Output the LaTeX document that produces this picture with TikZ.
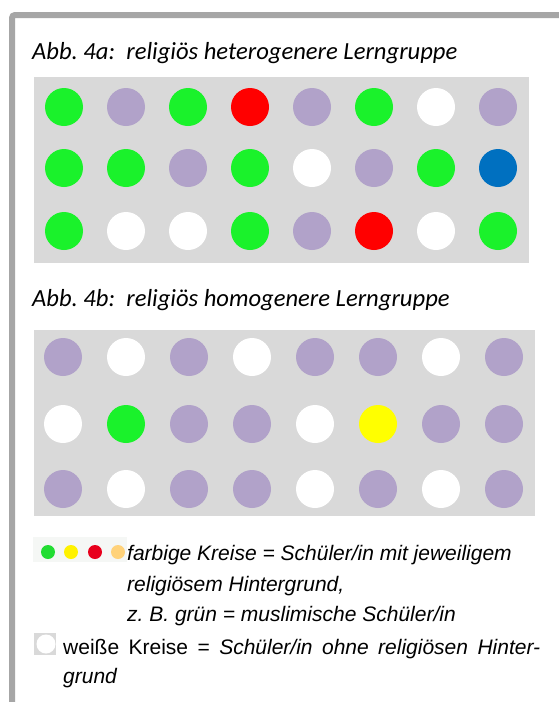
\documentclass[tikz,border=0pt]{standalone}
\usepackage{fontspec}
\setmainfont{Liberation Sans}
\newfontfamily\titlefont{Carlito}
\definecolor{framegray}{HTML}{A6A6A6}
\definecolor{boxgray}{HTML}{D9D9D9}
\definecolor{cG}{HTML}{1AF22B}
\definecolor{cP}{HTML}{B1A2C9}
\definecolor{cR}{HTML}{FF0000}
\definecolor{cB}{HTML}{0070C0}
\definecolor{cY}{HTML}{FFFF00}
\definecolor{cW}{HTML}{FFFFFF}
\definecolor{lgG}{HTML}{22DD33}
\definecolor{lgY}{HTML}{FFF200}
\definecolor{lgR}{HTML}{E8001C}
\definecolor{lgO}{HTML}{FFD27A}
\definecolor{lgBg}{HTML}{F5F7F5}
\frenchspacing
\tikzset{
  dot/.style={circle, minimum size=38pt, inner sep=0pt, draw=none},
  smalldot/.style={circle, minimum size=14pt, inner sep=0pt, draw=none},
  panel/.style={rectangle, fill=boxgray, draw=none, inner sep=0pt, anchor=north west},
  titletext/.style={anchor=base west, inner sep=0pt, font=\titlefont\itshape\fontsize{24.6}{28}\selectfont},
  legtext/.style={anchor=base west, inner sep=0pt, font=\fontsize{21}{25}\selectfont}
}
\begin{document}
\begin{tikzpicture}[x=1pt,y=-1pt]
\useasboundingbox (0,0) rectangle (559,702);
\fill[white] (0,0) rectangle (559,702);
\begin{scope}
\clip (0,0) rectangle (559,702);
\draw[framegray, line width=6pt, rounded corners=3pt] (12,15) rectangle (620,760);
\end{scope}

% Titles
\node[titletext] (t1) at (32,59) {Abb. 4a:\ \ religiös heterogenere Lerngruppe};
\node[titletext] (t2) at (32,306) {Abb. 4b:\ \ religiös homogenere Lerngruppe};

% Panels
\node[panel, minimum width=495pt, minimum height=186pt] (p1) at (34,77) {};
\node[panel, minimum width=501pt, minimum height=186pt] (p2) at (34,330) {};

% Panel 1 circles
\foreach \c [count=\i from 0] in {G,P,G,R,P,G,W,P}
  \node[dot, fill=c\c] (a1\i) at ({64+62*\i},107) {};
\foreach \c [count=\i from 0] in {G,G,P,G,W,P,G,B}
  \node[dot, fill=c\c] (a2\i) at ({64+62*\i},168) {};
\foreach \c [count=\i from 0] in {G,W,W,G,P,R,W,G}
  \node[dot, fill=c\c] (a3\i) at ({64+62*\i},231) {};

% Panel 2 circles
\foreach \c [count=\i from 0] in {P,W,P,W,P,P,W,P}
  \node[dot, fill=c\c] (b1\i) at ({63+63*\i},357) {};
\foreach \c [count=\i from 0] in {W,G,P,P,W,Y,P,P}
  \node[dot, fill=c\c] (b2\i) at ({63+63*\i},424) {};
\foreach \c [count=\i from 0] in {P,W,P,P,W,P,W,P}
  \node[dot, fill=c\c] (b3\i) at ({63+63*\i},489) {};

% Legend
\fill[lgBg] (33,537) rectangle (127,562);
\node[smalldot, fill=lgG] (l1) at (48,552) {};
\node[smalldot, fill=lgY] (l2) at (71,552) {};
\node[smalldot, fill=lgR] (l3) at (95,552) {};
\node[smalldot, fill=lgO] (l4) at (118,552) {};
\node[legtext] (lt1) at (127,560) {\itshape farbige Kreise = Schüler/in mit jeweiligem};
\node[legtext] (lt2) at (127,591) {\itshape religiösem Hintergrund,};
\node[legtext] (lt3) at (127,621) {\itshape z. B. grün = muslimische Schüler/in};

\fill[boxgray] (34,633) rectangle (56,655);
\node[circle, fill=white, minimum size=19pt, inner sep=0pt] (wc) at (46,644) {};
\node[legtext] (lt4) at (63,654) {\hbox to 477pt{weiße Kreise = \itshape Schüler/in ohne religiösen Hinter-}};
\node[legtext] (lt5) at (63,683) {\itshape grund};
\end{tikzpicture}
\end{document}
